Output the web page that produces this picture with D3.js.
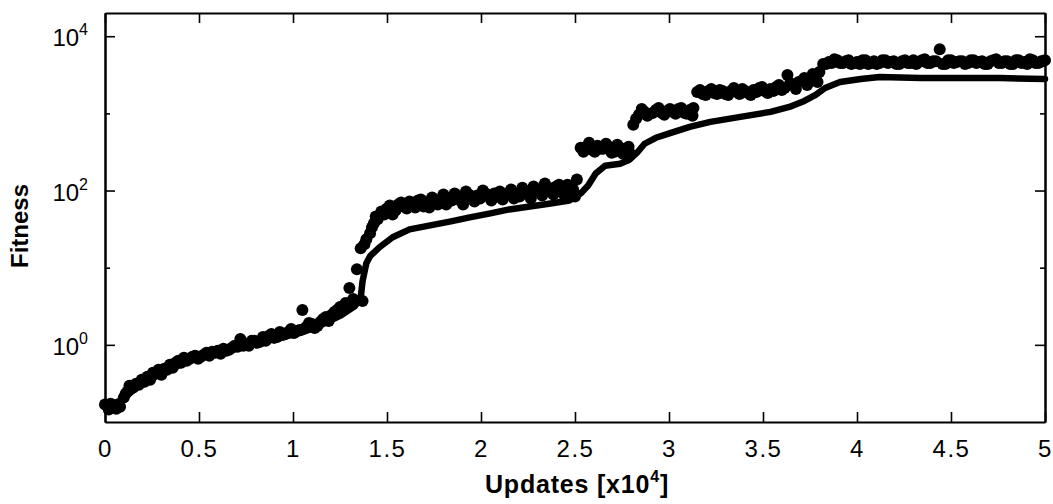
<!DOCTYPE html>
<html><head><meta charset="utf-8">
<script src="https://cdn.jsdelivr.net/npm/d3@7"></script>
<style>
body{margin:0;background:#fff}
svg{display:block}
text{font-family:"Liberation Sans",Arial,Helvetica,sans-serif;fill:#000}
</style>
</head><body>
<svg id="chart" width="1053" height="504"></svg>
<script>
// Updates in units of 10^4 (scatter: best-of-population fitness)
const dotUpdates = [0.00,0.03,0.06,0.08,0.10,0.12,0.15,0.18,0.21,0.24,0.27,0.30,0.33,0.36,0.39,0.42,0.45,0.48,0.51,0.54,0.57,0.60,0.63,0.66,0.69,0.72,0.75,0.78,0.81,0.84,0.87,0.90,0.93,0.96,0.99,1.02,1.05,1.07,1.10,1.13,1.16,1.19,1.22,1.25,1.28,1.30,1.32,1.34,1.36,1.37,1.39,1.41,1.43,1.45,1.47,1.50,1.53,1.56,1.59,1.62,1.65,1.68,1.71,1.74,1.77,1.80,1.83,1.86,1.89,1.92,1.95,1.98,2.01,2.04,2.07,2.10,2.13,2.16,2.19,2.22,2.25,2.28,2.31,2.34,2.37,2.40,2.43,2.46,2.49,2.51,2.53,2.56,2.59,2.62,2.65,2.68,2.71,2.74,2.77,2.79,2.81,2.84,2.87,2.90,2.93,2.96,2.99,3.02,3.05,3.08,3.11,3.13,3.15,3.18,3.21,3.24,3.27,3.30,3.33,3.36,3.39,3.42,3.45,3.48,3.51,3.54,3.57,3.60,3.63,3.66,3.69,3.72,3.75,3.78,3.80,3.82,3.85,3.88,3.91,3.94,3.97,4.00,4.03,4.06,4.09,4.12,4.15,4.18,4.21,4.24,4.27,4.30,4.33,4.36,4.39,4.42,4.44,4.47,4.50,4.53,4.56,4.59,4.62,4.65,4.68,4.71,4.74,4.77,4.80,4.83,4.86,4.89,4.92,4.95,4.98,5.00,
  0.02,0.05,0.11,0.13,0.165,0.195,0.225,0.255,0.285,0.315,0.345,0.375,0.405,0.435,0.465,0.495,0.525,0.555,0.585,0.615,0.645,0.675,0.705,0.735,0.765,0.795,0.825,0.855,0.885,0.915,0.945,0.975,1.005,1.035,1.085,1.115,1.145,1.175,1.205,1.235,1.265,1.29,1.31,1.38,1.42,1.44,1.485,1.515,1.545,1.575,1.605,1.635,1.665,1.695,1.725,1.755,1.785,1.815,1.845,1.875,1.905,1.935,1.965,1.995,2.025,2.055,2.085,2.115,2.145,2.175,2.205,2.235,2.265,2.295,2.325,2.355,2.385,2.415,2.445,2.475,2.50,
  2.545,2.575,2.605,2.635,2.665,2.695,2.725,2.755,2.785,2.825,2.855,2.885,2.915,2.945,2.975,3.005,3.035,3.065,3.095,3.125,3.165,3.195,3.225,3.255,3.285,3.315,3.345,3.375,3.405,3.435,3.465,3.495,3.525,3.555,3.585,3.615,3.645,3.675,3.705,3.735,3.765,3.79,
  3.835,3.865,3.895,3.925,3.955,3.985,4.015,4.045,4.075,4.105,4.135,4.165,4.195,4.225,4.255,4.285,4.315,4.345,4.375,4.405,4.455,4.485,4.515,4.545,4.575,4.605,4.635,4.665,4.695,4.725,4.755,4.785,4.815,4.845,4.875,4.905,4.935,4.965,4.99];
const dotFitness = [0.168,0.173,0.149,0.158,0.207,0.248,0.279,0.305,0.333,0.353,0.435,0.410,0.476,0.505,0.622,0.679,0.660,0.721,0.700,0.788,0.812,0.837,0.888,0.862,0.971,1.195,1.030,1.126,1.061,1.268,1.306,1.231,1.472,1.387,1.608,1.516,2.83,1.707,1.866,1.758,2.165,2.04,2.67,3.09,3.48,5.44,3.92,9.57,17.8,3.70,23.3,27.9,37.5,42.3,53.6,58.6,49.0,65.9,62.2,72.2,60.4,76.6,70.0,81.2,65.9,88.8,78.9,91.5,74.3,97.1,81.2,86.2,100,83.7,91.5,97.1,86.2,103,91.5,109,97.1,113,103,123,106,113,97.1,119,103,139,359,370,338,381,348,370,319,359,338,309,711,957,1046,986,1110,1015,1077,1046,1143,1015,1110,1178,1893,1786,1950,1840,2010,1786,1950,1893,2070,1840,2010,2133,1950,2070,2198,2010,3140,2333,2549,2871,2626,2958,3428,4355,4620,5047,4487,4755,4355,4620,4900,4355,4755,4487,4900,4620,4355,4755,4487,4900,4620,5047,4487,4755,6790,4355,4900,4620,4755,4487,4900,4620,4355,4755,5047,4487,4755,4355,4900,4620,5047,4487,4755,4900,
  0.145,0.158,0.233,0.296,0.314,0.353,0.386,0.435,0.476,0.490,0.552,0.586,0.586,0.622,0.700,0.660,0.743,0.721,0.788,0.765,0.837,0.915,0.942,0.971,0.971,1.126,1.093,1.126,1.387,1.268,1.346,1.472,1.428,1.562,1.922,1.657,1.98,2.30,2.44,2.83,3.00,3.28,3.48,20.1,33.3,46.2,49.0,64.0,55.2,70.0,58.6,65.9,74.3,62.2,60.4,72.2,76.6,65.9,74.3,83.7,65.9,88.8,72.2,78.9,91.5,74.3,83.7,76.6,91.5,78.9,83.7,91.5,78.9,97.1,86.2,100,88.8,119,86.2,94.2,83.7,
  319,416,319,348,404,309,392,300,370,849,1143,929,1015,1178,957,1143,986,1178,986,929,2010,1733,2070,1786,1950,1733,2133,1786,1950,1733,1893,2198,1840,1950,2333,2133,2475,2070,2626,2333,3236,2549,
  4355,4487,4900,4487,4900,4487,4355,4900,4487,4355,4900,4487,4755,4355,4900,4487,4355,4900,4487,4755,4355,4900,4487,4755,4355,4900,4487,4755,4355,4900,4487,4755,4355,4900,4487,4355,4900,4487,4755];

// Updates in units of 10^4 (curve: average fitness)
const lineUpdates = [0.00,0.08,0.19,0.29,0.40,0.50,0.61,0.72,0.82,0.93,1.04,1.14,1.25,1.33,1.36,1.37,1.39,1.41,1.46,1.53,1.62,1.73,1.84,1.94,2.05,2.15,2.26,2.37,2.47,2.53,2.57,2.61,2.66,2.74,2.79,2.83,2.87,2.93,3.01,3.11,3.22,3.38,3.54,3.64,3.72,3.78,3.83,3.91,4.02,4.12,4.34,4.55,4.76,5.00];
const lineFitness = [0.158,0.189,0.305,0.410,0.552,0.679,0.788,0.915,1.061,1.231,1.428,1.758,2.37,3.19,4.04,6.70,11.4,14.1,18.4,24.8,31.4,35.3,39.8,44.9,50.5,56.9,62.2,68.0,74.3,91.5,116,166,210,223,251,309,404,483,560,670,777,901,1046,1213,1450,1733,2133,2549,2786,2958,2871,2871,2871,2786];

const xTicks = [0,0.5,1,1.5,2,2.5,3,3.5,4,4.5,5];
const xTickLabels = ["0","0.5","1","1.5","2","2.5","3","3.5","4","4.5","5"];
const yMajorTicks = [1,100,10000];
const yTickExponents = ["0","2","4"];
const yMinorTicks = [10,1000];
const xTitle = "Updates [x10";
const xTitleExp = "4";
const yTitle = "Fitness";

const svg = d3.select("#chart");
const L = 105, R = 1045, T = 13, B = 422;
const x = d3.scaleLinear().domain([0,5]).range([L,R]);
const y = d3.scaleLog().domain([0.1,20000]).range([B,T]);

// data
svg.append("path")
  .datum(lineUpdates.map((u,i)=>[u,lineFitness[i]]))
  .attr("fill","none").attr("stroke","#000").attr("stroke-width",6.5)
  .attr("stroke-linejoin","round").attr("stroke-linecap","round")
  .attr("d", d3.line().x(d=>x(d[0])).y(d=>y(d[1])));

svg.append("g").selectAll("circle")
  .data(dotUpdates.map((u,i)=>[u,dotFitness[i]]))
  .join("circle")
  .attr("cx",d=>x(d[0])).attr("cy",d=>y(d[1])).attr("r",6).attr("fill","#000");

function styleAxis(g){
  g.select(".domain").attr("stroke","#000").attr("stroke-width",2);
  g.selectAll(".tick line").attr("stroke","#000").attr("stroke-width",1.6);
}

// bottom axis
const gb = svg.append("g").attr("transform",`translate(0,${B})`)
  .call(d3.axisBottom(x).tickValues(xTicks).tickSizeInner(-10).tickSizeOuter(0).tickPadding(18)
    .tickFormat((d,i)=>xTickLabels[i]));
styleAxis(gb);
gb.selectAll("text").attr("font-size",24).attr("letter-spacing",1.5)
  .attr("font-family",'"Liberation Sans",Arial,sans-serif').attr("fill","#000");

// top axis
const gt = svg.append("g").attr("transform",`translate(0,${T})`)
  .call(d3.axisTop(x).tickValues(xTicks).tickSizeInner(-10).tickSizeOuter(0).tickFormat(""));
styleAxis(gt);

// left axis
const gl = svg.append("g").attr("transform",`translate(${L},0)`)
  .call(d3.axisLeft(y).tickValues(yMajorTicks).tickSizeInner(-10).tickSizeOuter(0).tickFormat(""));
styleAxis(gl);
const glm = svg.append("g").attr("transform",`translate(${L},0)`)
  .call(d3.axisLeft(y).tickValues(yMinorTicks).tickSizeInner(-5).tickSizeOuter(0).tickFormat(""));
styleAxis(glm);

// right axis
const gr = svg.append("g").attr("transform",`translate(${R},0)`)
  .call(d3.axisRight(y).tickValues(yMajorTicks).tickSizeInner(-10).tickSizeOuter(0).tickFormat(""));
styleAxis(gr);
const grm = svg.append("g").attr("transform",`translate(${R},0)`)
  .call(d3.axisRight(y).tickValues(yMinorTicks).tickSizeInner(-5).tickSizeOuter(0).tickFormat(""));
styleAxis(grm);

// y tick labels with superscripts
const yl = svg.append("g").selectAll("text")
  .data(yMajorTicks)
  .join("text")
  .attr("x",88).attr("y",d=>y(d)+10).attr("text-anchor","end").attr("font-size",24);
yl.append("tspan").text("10");
yl.append("tspan").attr("dy",-11).attr("font-size",16).text((d,i)=>yTickExponents[i]);

// x title
const xt = svg.append("text").attr("x",577).attr("y",493).attr("text-anchor","middle")
  .attr("font-size",25).attr("font-weight","bold").attr("letter-spacing",0.8);
xt.append("tspan").text(xTitle);
xt.append("tspan").attr("dy",-11).attr("font-size",16).text(xTitleExp);
xt.append("tspan").attr("dy",11).text("]");

// y title
svg.append("text").attr("transform","translate(28,226) rotate(-90)")
  .attr("text-anchor","middle").attr("font-size",24).attr("font-weight","bold")
  .text(yTitle);
</script>
</body></html>
